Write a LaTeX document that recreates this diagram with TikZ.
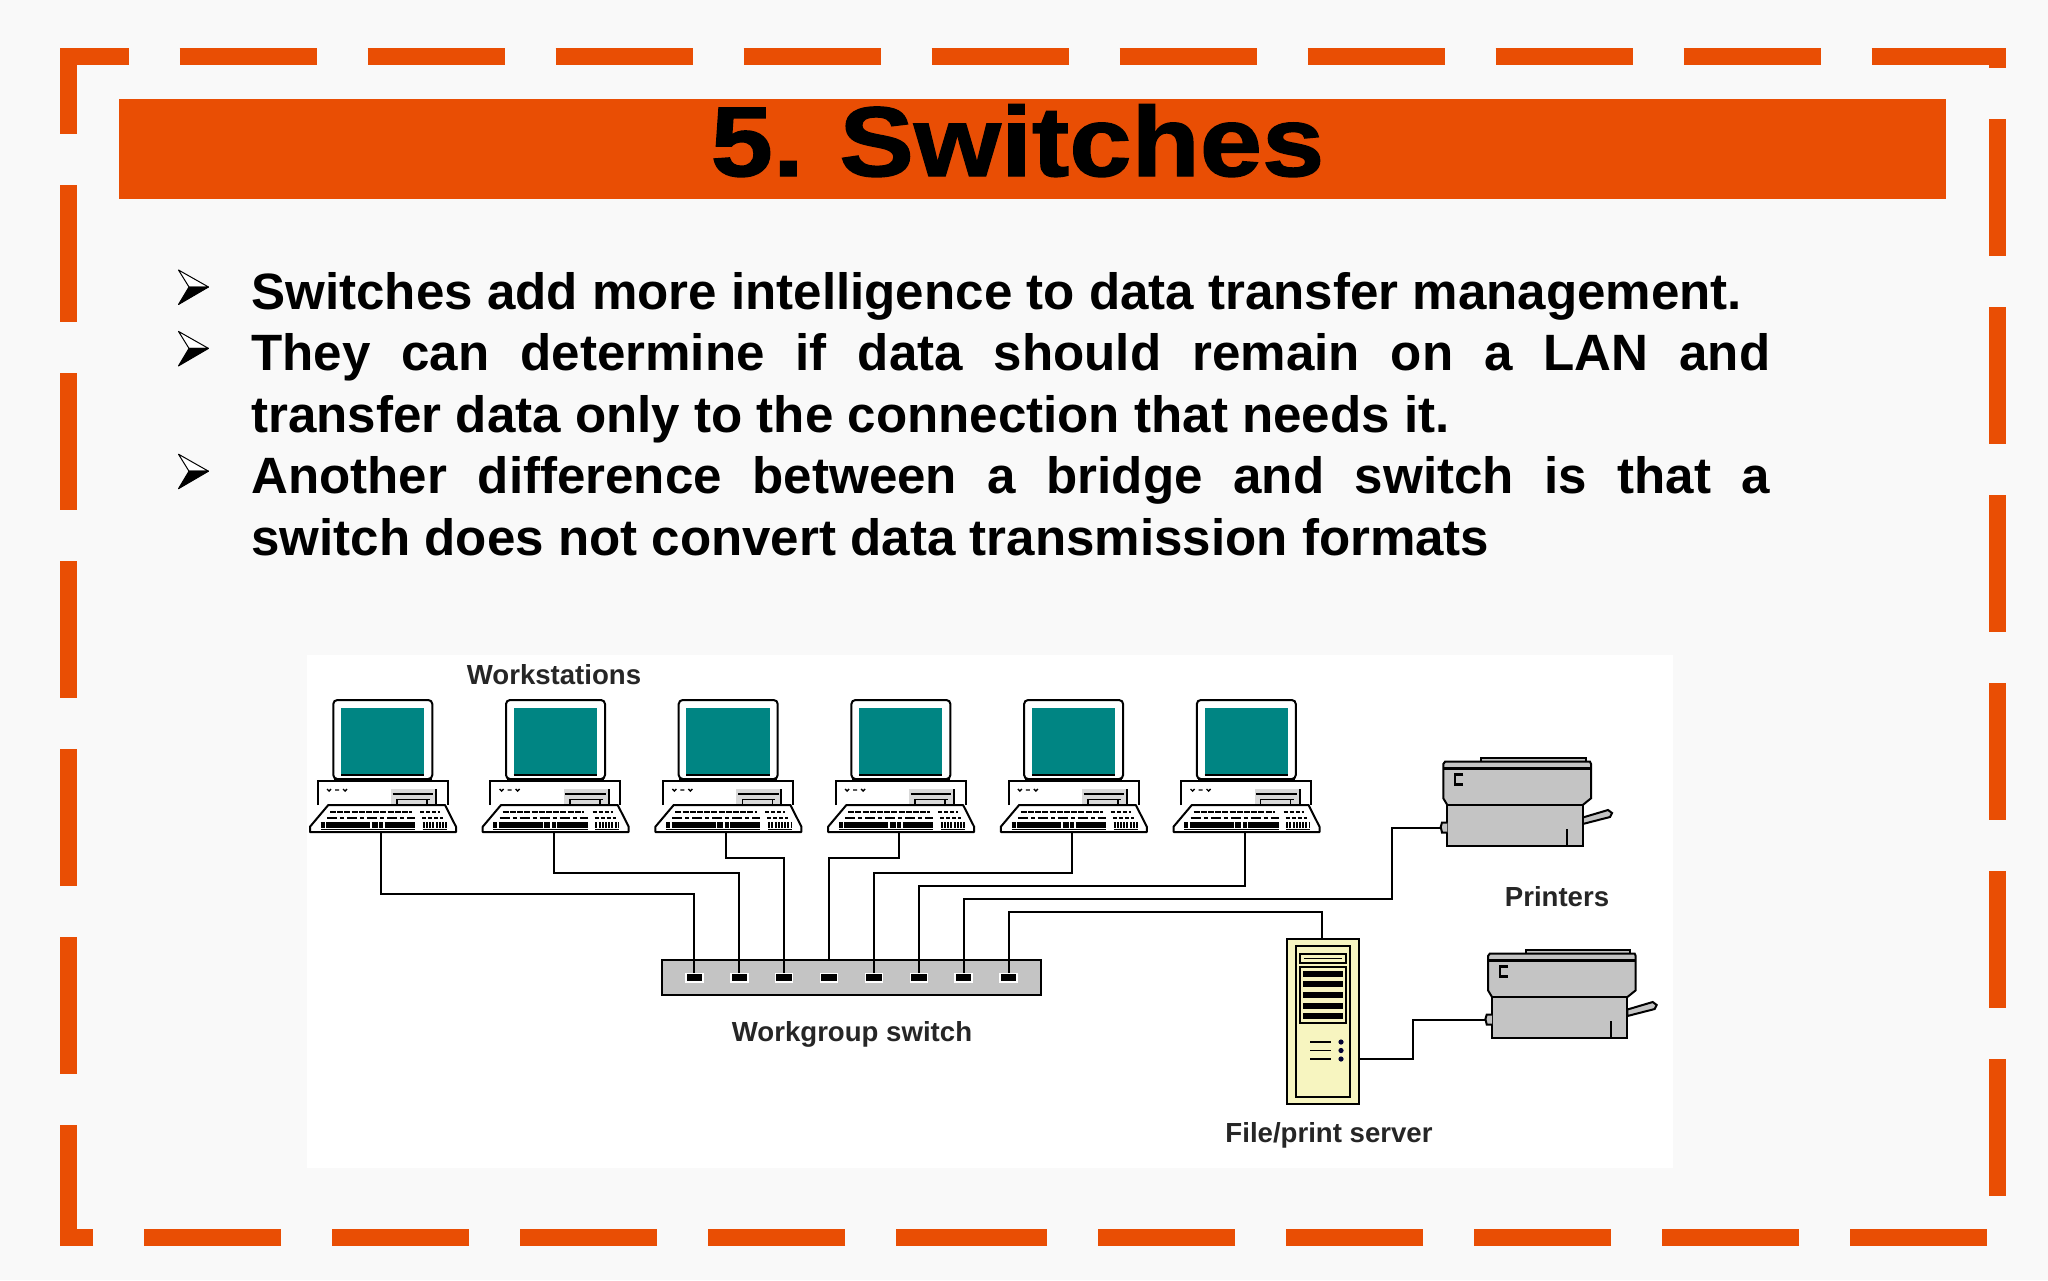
\documentclass[tikz,border=0pt]{standalone}
\usepackage{fontspec}
\setmainfont{Liberation Sans}
\newfontfamily\headfont[FakeStretch=1.13, BoldFeatures={FakeBold=1.4}]{Liberation Sans}
\definecolor{slideorange}{HTML}{E94E04}
\definecolor{slidepaper}{HTML}{F9F9F9}
\definecolor{screenteal}{HTML}{008583}
\definecolor{boxgrey}{HTML}{C4C4C4}
\definecolor{serveryellow}{HTML}{F7F5C0}
\tikzset{
    framedash/.style={draw=slideorange, line width=8.5pt, line join=miter, dash pattern=on 68.5pt off 25.5pt},
    titletext/.style={anchor=base, inner sep=0pt, text=black, font=\headfont\fontsize{49.5}{54}\selectfont\bfseries},
    bodytext/.style={anchor=north west, inner sep=0pt, text width=759.5pt, align=justify, text=black,
        font=\fontsize{25.55}{30.7}\selectfont\bfseries},
    wire/.style={line width=1pt, black},
    outline/.style={line width=1pt, black},
    swbox/.style={draw=black, line width=1.2pt, fill=boxgrey, minimum width=189.5pt, minimum height=17.5pt, inner sep=0pt},
    swport/.style={draw=white, line width=0.8pt, fill=black, minimum width=8.5pt, minimum height=4.2pt, inner sep=0pt},
    srvbox/.style={draw=black, line width=1pt, fill=serveryellow, minimum width=36pt, minimum height=82.5pt, inner sep=0pt},
    partlabel/.style={inner sep=0pt, text=black!85, font=\fontsize{13.8}{16}\selectfont\bfseries},
}
\begin{document}
\begin{tikzpicture}[x=0.5pt, y=-0.5pt]
    \useasboundingbox (0,0) rectangle (2048,1280);
    \fill[slidepaper] (0,0) rectangle (2048,1280);

    % Dashed frame and title
    \draw[framedash] (1033,1237) -- (68.5,1237) -- (68.5,56.5) -- (1997,56.5) -- (1997,1237) -- cycle;
    \fill[slideorange] (119,99) rectangle (1946,199);
    \node[titletext] (title) at (1017.5,176) {5.\kern-3pt{} Switches};

    % Bullets
    \foreach \y in {287,348.4,471.2} {
        \begin{scope}[shift={(178,\y)}]
            \draw[line width=0.5pt, fill=white, line join=round] (0.5,-17) -- (30.5,0) -- (11,0) -- cycle;
            \draw[line width=0.5pt, fill=black, line join=round] (0.5,17.5) -- (30.5,0) -- (11,0) -- cycle;
        \end{scope}
    }
    \node[bodytext] (points) at (251,272) {\hyphenpenalty=10000 \tolerance=9999 Switches add more intelligence to data transfer management.\\
        They can determine if data should remain on a LAN and\linebreak transfer data only to the connection that needs it.\\
        Another difference between a bridge and switch is that a\linebreak switch does not convert data transmission formats};

    % Network panel
    \fill[white] (307,655) rectangle (1673,1168);
    \node[partlabel] (wslabel) at (554,675) {Workstations};
    \node[partlabel] (swlabel) at (852,1034) {Workgroup switch};
    \node[partlabel] (prnlabel) at (1557,897) {Printers};
    \node[partlabel] (srvlabel) at (1329,1135) {File/print server};

    % Workstations
    \foreach \n/\x in {1/381,2/553.7,3/726.4,4/899.1,5/1071.8,6/1244.5} {
        \begin{scope}[shift={(\x,833)}]
            \coordinate (pc\n) at (0,0);
            \draw[outline, fill=white, rounded corners=2pt] (-47.7,-133) rectangle (51.3,-54);
            \fill[screenteal] (-40,-125.3) rectangle (43.3,-58);
            \draw[black, line width=0.8pt] (-40,-58) -- (43.3,-58);
            \draw[outline, fill=white] (-63.3,-28) -- (-63.3,-52.3) -- (66.7,-52.3) -- (66.7,-28);
            \draw[black, line width=1.6pt] (-47,-53.5) -- (50.5,-53.5);
            % vents and drive
            \draw[black, line width=0.7pt] (-54,-44) -- (-52,-42) -- (-50,-44) (-46,-43) -- (-42,-43) (-38,-44) -- (-36,-42) -- (-34,-44);
            \fill[black!15] (10,-44) rectangle (55,-28);
            \draw[black, line width=0.8pt] (11.7,-39) -- (52.3,-39);
            \draw[black, line width=0.8pt] (15.7,-33.7) -- (49,-33.7);
            \draw[black, line width=1pt] (55,-44) -- (55,-28);
            \draw[black, line width=0.8pt] (16,-33.7) -- (16,-28) (46,-33.7) -- (46,-28);
            % keyboard
            \draw[outline, fill=white, line join=round] (-52.7,-28) -- (64,-28) -- (75,-6.3) -- (75,-1) -- (-71,-1) -- (-71,-6.3) -- cycle;
            \draw[black, line width=0.9pt, dash pattern=on 3pt off 0.6pt] (-51,-20.7) -- (30.7,-20.7);
            \draw[black, line width=1pt, dash pattern=on 5pt off 1.5pt on 2pt off 1.5pt] (-54,-14.7) -- (34,-14.7);
            \draw[black, line width=2.8pt, dash pattern=on 2pt off 0.7pt on 22pt off 0.8pt on 3pt off 0.8pt] (-60.3,-8) -- (34,-8);
            \draw[black, line width=0.7pt] (-60.3,-3.7) -- (34,-3.7);
            \draw[black, line width=0.9pt, dash pattern=on 2pt off 1pt] (39,-20.7) -- (59,-20.7);
            \draw[black, line width=0.9pt, dash pattern=on 2pt off 1pt] (41,-14.7) -- (62,-14.7);
            \draw[black, line width=2.6pt, dash pattern=on 1pt off 0.6pt] (41.7,-8) -- (65.7,-8);
            \draw[black, line width=0.7pt] (41.7,-3.7) -- (65.7,-3.7);
        \end{scope}
    }

    % Printers
    \foreach \n/\x/\y in {1/1440/828,2/1484.7/1020} {
        \begin{scope}[shift={(\x,\y)}]
            \coordinate (prn\n) at (0.7,0);
            \fill[boxgrey] (3.3,-66) rectangle (151,-30) (7.3,-30) rectangle (142.7,17.7);
            \draw[outline, fill=boxgrey] (142.7,-10.5) -- (168,-18) -- (172,-15) -- (170,-11) -- (142.7,-4) -- cycle;
            \draw[outline, fill=boxgrey] (41,-66.3) -- (41,-70.3) -- (145.7,-70.3) -- (145.7,-66.3);
            \draw[outline, fill=boxgrey] (7.3,-23) -- (3.3,-29.7) -- (3.3,-64) -- (5,-66.3) -- (150,-66.3) -- (151,-64) -- (151,-29.7) -- (142.7,-23) -- cycle;
            \draw[black, line width=1.6pt] (3.3,-59.7) -- (151,-59.7);
            \draw[outline, fill=boxgrey] (7.3,-23) rectangle (142.7,17.7);
            \draw[outline, fill=boxgrey] (7.3,-5.5) -- (2,-5.5) -- (0.7,-1) -- (2,4.5) -- (7.3,4.5);
            \draw[outline] (126.7,1.3) -- (126.7,17.7);
            \draw[black, line width=1.2pt] (23.3,-53.7) -- (15,-53.7) -- (15,-43.7) -- (23.3,-43.7);
        \end{scope}
    }

    % File server
    \node[srvbox] (srv) at (1323,1021.5) {};
    \coordinate (srvtop) at (1321.7,939);
    \coordinate (srvside) at (1359,1059);
    \draw[outline] (1296,946) rectangle (1350,1097);
    \draw[outline] (1300,954) rectangle (1346,963);
    \draw[black, line width=0.6pt] (1304,958.5) -- (1342,958.5);
    \draw[outline, fill=serveryellow] (1300,967) rectangle (1346,1023);
    \foreach \y in {973.5,984,995,1005.5,1016} {
        \fill[black] (1303,\y-3) rectangle (1343,\y+3);
    }
    \foreach \y in {1042,1050.5,1059} {
        \draw[black, line width=0.8pt] (1310,\y) -- (1331,\y);
        \fill[black!80!blue] (1341,\y) circle (2.6);
    }

    % Switch
    \node[swbox] (sw) at (851.5,977.5) {};
    \foreach \n in {1,...,8} {
        \node[swport] (port\n) at ({694.3+(\n-1)*44.9},977.8) {};
    }

    % Connections
    \draw[wire] (pc1) -- ++(0,61) -| (port1);
    \draw[wire] (pc2) -- ++(0,40) -| (port2);
    \draw[wire] (pc3) -- ++(0,25) -| (port3);
    \draw[wire] (pc4) -- ++(0,25) -| (port4 |- sw.north);
    \draw[wire] (pc5) -- ++(0,40) -| (port5);
    \draw[wire] (pc6) -- ++(0,53) -| (port6);
    \draw[wire] (port7) |- (1392,898.7) |- (prn1);
    \draw[wire] (port8) -- ++(0,-66) -| (srvtop);
    \draw[wire] (srvside) -| (1413,1020) -- (prn2);
\end{tikzpicture}
\end{document}
